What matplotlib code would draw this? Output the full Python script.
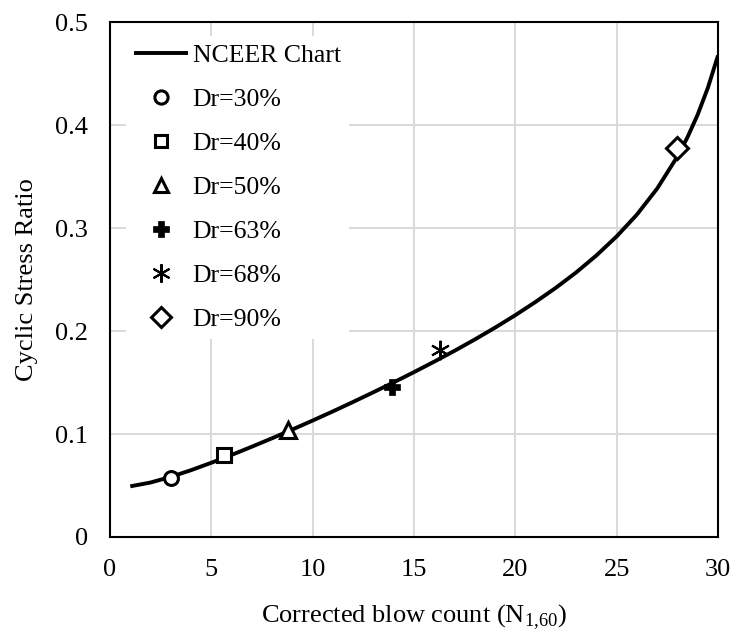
import matplotlib
matplotlib.use("Agg")
import matplotlib.pyplot as plt

plt.rcParams['font.family'] = ['Liberation Serif', 'DejaVu Serif']
plt.rcParams['mathtext.fontset'] = 'custom'
plt.rcParams['mathtext.rm'] = 'Liberation Serif'

# NCEER chart curve
curve_n = [1, 2, 3, 4, 5, 6, 7, 8, 9, 10, 11, 12, 13, 14, 15, 16, 17, 18, 19, 20,
           21, 22, 23, 24, 25, 26, 27, 28, 28.5, 29, 29.5, 30]
curve_csr = [0.0492, 0.0529, 0.0584, 0.0649, 0.0721, 0.0797, 0.0877, 0.0959,
             0.1044, 0.1131, 0.1220, 0.1312, 0.1406, 0.1502, 0.1601, 0.1703,
             0.1808, 0.1918, 0.2033, 0.2154, 0.2283, 0.2420, 0.2569, 0.2734,
             0.2919, 0.3131, 0.3384, 0.3696, 0.3884, 0.4103, 0.4362, 0.4676]

# test points
labels = ['Dr=30%', 'Dr=40%', 'Dr=50%', 'Dr=63%', 'Dr=68%', 'Dr=90%']
pts_n = [3.0, 5.6, 8.8, 13.9, 16.3, 28.0]
pts_csr = [0.057, 0.080, 0.104, 0.146, 0.182, 0.378]

x_ticks = [0, 5, 10, 15, 20, 25, 30]
y_ticks = [0, 0.1, 0.2, 0.3, 0.4, 0.5]
y_tick_labels = ['0', '0.1', '0.2', '0.3', '0.4', '0.5']

fig = plt.figure(figsize=(7.32, 6.34), dpi=100)
ax = fig.add_axes([0.1503, 0.153, 0.8306, 0.8122])

ax.plot(curve_n, curve_csr, color='black', lw=2.8, label='NCEER Chart', zorder=3,
        solid_capstyle='butt', solid_joinstyle='round')

styles = [
    dict(marker='o', mfc='white', ms=10, mew=2.2),
    dict(marker='s', mfc='white', ms=9.5, mew=2.2),
    dict(marker='^', mfc='white', ms=11, mew=2.2),
    dict(marker='P', mfc='black', ms=11.5, mew=0.5),
    dict(marker=(6, 2, 0), mfc='black', ms=14, mew=1.5),
    dict(marker='D', mfc='white', ms=11, mew=2.2),
]
for lab, xv, yv, st in zip(labels, pts_n, pts_csr, styles):
    ax.plot([xv], [yv], linestyle='none', color='black', mec='black',
            label=lab, zorder=4, **st)

ax.set_xlim(0, 30)
ax.set_ylim(0, 0.5)
ax.set_xticks(x_ticks)
ax.set_yticks(y_ticks)
ax.set_yticklabels(y_tick_labels)
ax.grid(True, color='#d9d9d9', lw=1.4)
ax.set_axisbelow(True)
ax.tick_params(axis='both', length=0, labelsize=19)
ax.tick_params(axis='x', pad=16)
ax.tick_params(axis='y', pad=16)
for sp in ax.spines.values():
    sp.set_linewidth(1.5)
    sp.set_color('black')

ax.set_xlabel(r'Corrected blow count (N$_{\mathregular{1{,}60}}$)', fontsize=19, labelpad=15)
ax.set_ylabel('Cyclic Stress Ratio', fontsize=19, labelpad=12)

leg = ax.legend(loc='upper left', bbox_to_anchor=(0.005, 0.998), fontsize=18.5,
                frameon=True, framealpha=1, edgecolor='white', fancybox=False,
                handlelength=2.1, handletextpad=0.2, labelspacing=0.82,
                borderpad=0.3, markerscale=0.95)
leg.get_frame().set_linewidth(0)

fig.savefig('out.png', dpi=100)
